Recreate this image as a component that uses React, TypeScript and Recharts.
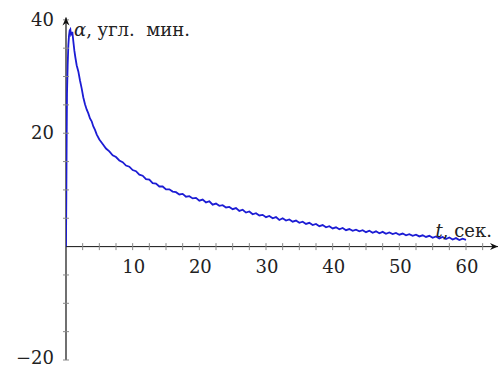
import React from 'react';
import { LineChart, Line, XAxis, YAxis, ReferenceLine, ReferenceDot } from 'recharts';

// measured deflection, angular minutes, against time in seconds
const time = [
  0, 0.05, 0.1, 0.15, 0.25, 0.35, 0.45, 0.55, 0.65, 0.75, 0.85, 0.95, 1.1, 1.25, 1.4, 1.6, 1.85,
  2.1, 2.35, 2.6, 2.85, 3.1, 3.35, 3.6, 3.85, 4.1, 4.35, 4.6,
  5, 5.5, 6, 6.5, 7, 7.5, 8, 8.5, 9, 9.5, 10, 10.5, 11, 11.5, 12, 12.5, 13, 13.5, 14, 14.5,
  15, 15.5, 16, 16.5, 17, 17.5, 18, 18.5, 19, 19.5, 20, 20.5, 21, 21.5, 22, 22.5, 23, 23.5,
  24, 24.5, 25, 25.5, 26, 26.5, 27, 27.5, 28, 28.5, 29, 29.5, 30, 30.5, 31, 31.5, 32, 32.5,
  33, 33.5, 34, 34.5, 35, 35.5, 36, 36.5, 37, 37.5, 38, 38.5, 39, 39.5, 40, 40.5, 41, 41.5,
  42, 42.5, 43, 43.5, 44, 44.5, 45, 45.5, 46, 46.5, 47, 47.5, 48, 48.5, 49, 49.5, 50, 50.5,
  51, 51.5, 52, 52.5, 53, 53.5, 54, 54.5, 55, 55.5, 56, 56.5, 57, 57.5, 58, 58.5, 59, 59.5, 60,
];
const alpha = [
  0, 9, 19, 27, 32, 35.5, 37.2, 38.1, 38.3, 37.4, 37.6, 37.9, 36.2, 34.6, 33.4, 32.0, 30.9,
  29.3, 27.9, 26.3, 25.1, 24.2, 23.5, 22.6, 22.1, 21.2, 20.6, 19.8,
  18.9, 18.1, 17.3, 16.8, 16.1, 15.8, 15.2, 14.9, 14.3, 14.1, 13.5, 13.3, 12.7, 12.5, 11.9, 11.8, 11.2, 11.1, 10.6, 10.6,
  10.1, 10.1, 9.7, 9.6, 9.2, 9.3, 8.8, 8.9, 8.5, 8.6, 8.1, 8.3, 7.8, 8.0, 7.4, 7.6, 7.2, 7.3,
  6.9, 7.0, 6.6, 6.8, 6.3, 6.5, 6.0, 6.2, 5.7, 5.9, 5.5, 5.6, 5.2, 5.4, 5.0, 5.2, 4.7, 5.0,
  4.6, 4.8, 4.4, 4.6, 4.2, 4.4, 4.0, 4.2, 3.8, 4.0, 3.6, 3.8, 3.4, 3.6, 3.2, 3.4, 3.05, 3.3,
  2.9, 3.1, 2.8, 3.0, 2.7, 2.9, 2.55, 2.8, 2.45, 2.7, 2.35, 2.6, 2.25, 2.5, 2.2, 2.4, 2.1, 2.3,
  2.0, 2.2, 1.9, 2.1, 1.8, 2.0, 1.7, 1.9, 1.55, 1.8, 1.45, 1.7, 1.35, 1.6, 1.25, 1.5, 1.15, 1.4, 1.2,
];

const xTicks = [2.5, 5, 7.5, 10, 12.5, 15, 17.5, 20, 22.5, 25, 27.5, 30, 32.5, 35, 37.5, 40, 42.5, 45, 47.5, 50, 52.5, 55, 57.5, 60, 62.5];
const xLabels = [10, 20, 30, 40, 50, 60];
const yTicks = [-20, -15, -10, -5, 5, 10, 15, 20, 25, 30, 35, 40];
const yLabels = [40, 20, -20];

const X_MAX = 64.8;
const Y_MIN = -20;
const Y_MAX = 40.5;

const data = time.map((t, i) => ({ t, alpha: alpha[i] }));

const FONT = 'DejaVu Serif';
const AXIS = '#111';
const TICK = '#8a8a8a';

export default function App() {
  return (
    <div style={{ position: 'absolute', left: 0, top: 0, background: '#fff' }}>
      <LineChart width={504} height={367} data={data} margin={{ top: 17, right: 6, bottom: 7, left: 66 }}>
        <XAxis dataKey="t" type="number" domain={[0, X_MAX]} allowDataOverflow hide />
        <YAxis type="number" domain={[Y_MIN, Y_MAX]} allowDataOverflow hide />

        {xTicks.map(v => (
          <ReferenceDot key={'xt' + v} x={v} y={0} r={0}
            shape={(p: any) => <line x1={p.cx} x2={p.cx} y1={p.cy - 3.5} y2={p.cy + 3.5} stroke={TICK} strokeWidth={1} />} />
        ))}
        {yTicks.map(v => (
          <ReferenceDot key={'yt' + v} x={0} y={v} r={0}
            shape={(p: any) => <line x1={p.cx - 3} x2={p.cx + 3} y1={p.cy} y2={p.cy} stroke={TICK} strokeWidth={1} />} />
        ))}

        <ReferenceLine segment={[{ x: 0, y: 0 }, { x: X_MAX, y: 0 }]} stroke={AXIS} strokeWidth={1} />
        <ReferenceLine segment={[{ x: 0, y: Y_MIN }, { x: 0, y: 40.4 }]} stroke={AXIS} strokeWidth={1.2} />

        <ReferenceDot x={X_MAX} y={0} r={0}
          shape={(p: any) => <path d={`M${p.cx} ${p.cy} l-8 -3.5 l2.5 3.5 l-2.5 3.5 z`} fill={AXIS} />} />
        <ReferenceDot x={0} y={40.4} r={0}
          shape={(p: any) => <path d={`M${p.cx} ${p.cy} l-3.5 8 l3.5 -2.5 l3.5 2.5 z`} fill={AXIS} />} />

        {xLabels.map(v => (
          <ReferenceDot key={'xl' + v} x={v} y={0} r={0}
            shape={(p: any) => (
              <text x={p.cx + 1} y={p.cy + 26} textAnchor="middle" fontFamily={FONT} fontSize={18} fill="#222">{v}</text>
            )} />
        ))}
        {yLabels.map(v => (
          <ReferenceDot key={'yl' + v} x={0} y={v} r={0}
            shape={(p: any) => (
              <text x={p.cx - 12} y={p.cy + (v < 0 ? 4 : 6)} textAnchor="end" fontFamily={FONT} fontSize={18} fill="#222">
                {v < 0 ? '\u2212' + Math.abs(v) : v}
              </text>
            )} />
        ))}

        <ReferenceDot x={0} y={40} r={0}
          shape={(p: any) => (
            <text x={p.cx + 8} y={p.cy + 16} fontFamily={FONT} fontSize={18} fill="#222" xmlSpace="preserve">
              <tspan fontStyle="italic">α</tspan>, угл.  мин.
            </text>
          )} />
        <ReferenceDot x={X_MAX} y={0} r={0}
          shape={(p: any) => (
            <text x={p.cx - 6} y={p.cy - 10} textAnchor="end" fontFamily={FONT} fontSize={18} fill="#222">
              <tspan fontStyle="italic">t</tspan>, сек.
            </text>
          )} />

        <Line type="linear" dataKey="alpha" stroke="#1c1cd4" strokeWidth={1.8} dot={false} isAnimationActive={false} />
      </LineChart>
    </div>
  );
}
